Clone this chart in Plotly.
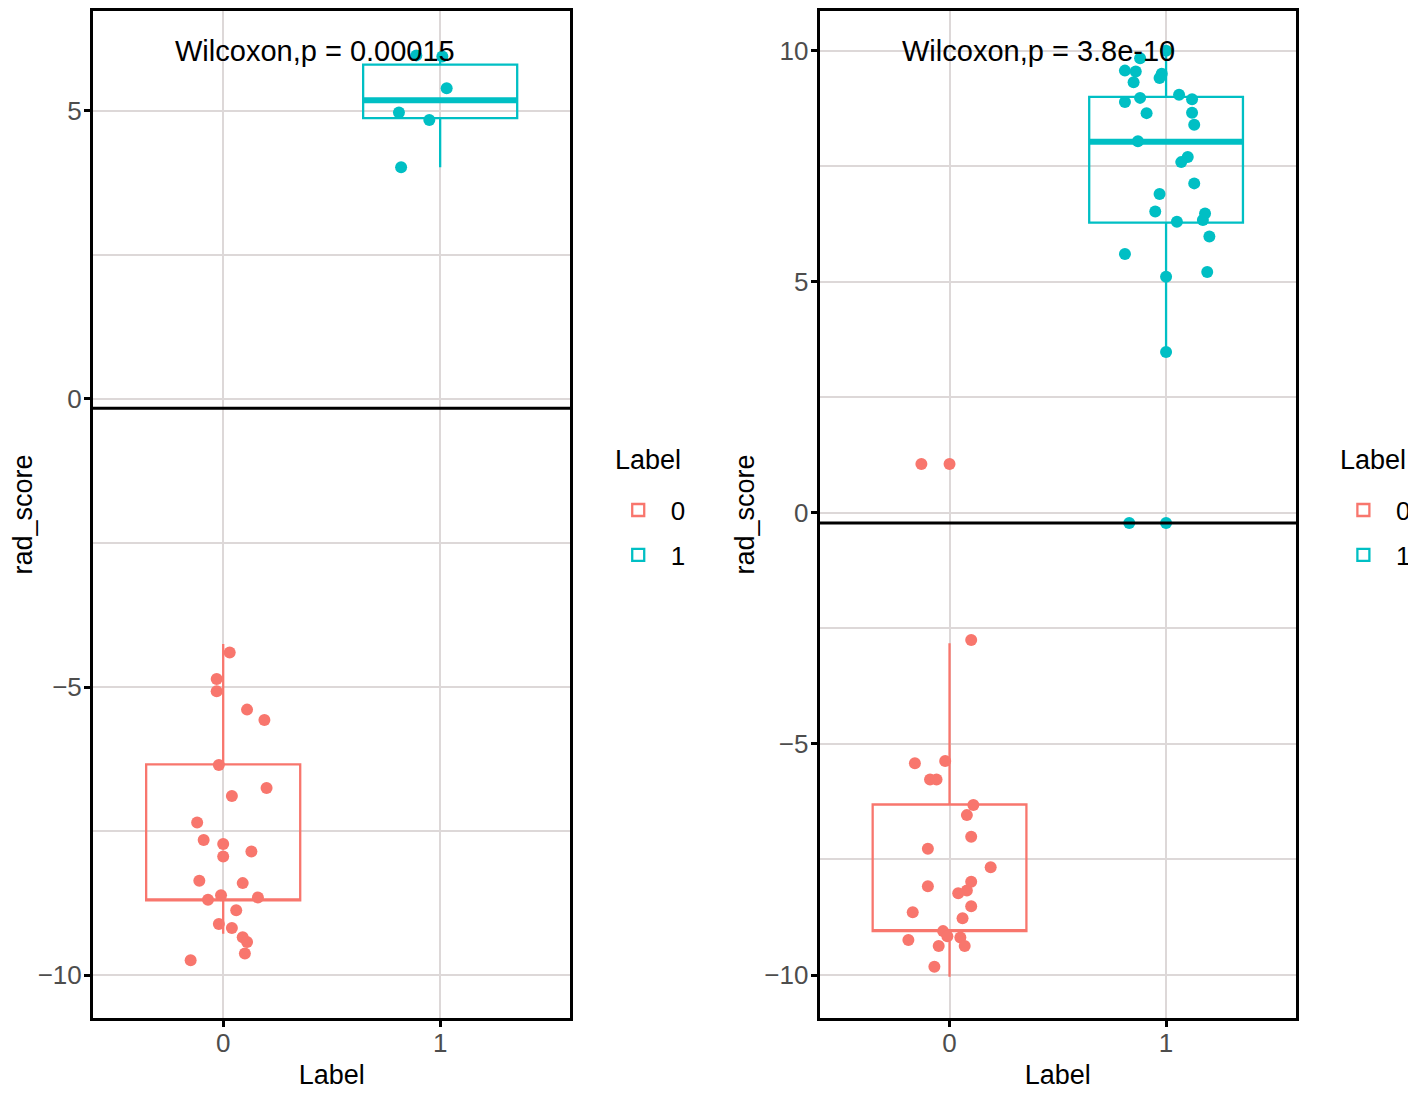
import plotly.graph_objects as go

# ---------------- data ----------------
categories = [0, 1]
colors = ["#F8766D", "#00BFC4"]

# Left panel, Label 0 (jittered points: horizontal offset, value)
L0_dx = [0.03, -0.03, -0.03, 0.11, 0.19, -0.02, 0.20, 0.04, -0.12, -0.09, 0.00, 0.00, 0.13,
         -0.11, 0.09, -0.01, -0.07, 0.16, 0.06, -0.02, 0.04, 0.09, 0.11, 0.10, -0.15]
L0_y = [-4.40, -4.86, -5.07, -5.39, -5.57, -6.35, -6.75, -6.89, -7.35, -7.65, -7.72, -7.94, -7.85,
        -8.36, -8.40, -8.61, -8.69, -8.65, -8.87, -9.11, -9.18, -9.34, -9.42, -9.62, -9.74]
# Left panel, Label 1
L1_dx = [-0.11, 0.01, 0.03, -0.19, -0.05, -0.18]
L1_y = [5.96, 5.94, 5.39, 4.97, 4.84, 4.02]

# Right panel, Label 0
R0_dx = [0.10, -0.16, -0.02, -0.09, -0.06, 0.11, 0.08, 0.10, -0.10, 0.19, 0.10, 0.08, -0.10,
         0.04, 0.10, -0.17, 0.06, -0.03, -0.01, 0.05, -0.19, -0.05, 0.07, -0.07, -0.13, 0.00]
R0_y = [-2.75, -5.42, -5.37, -5.77, -5.77, -6.32, -6.54, -7.01, -7.27, -7.67, -7.98, -8.17, -8.08,
        -8.23, -8.51, -8.64, -8.77, -9.05, -9.16, -9.19, -9.24, -9.37, -9.37, -9.82, 1.06, 1.06]
# Right panel, Label 1
R1_dx = [0.00, -0.12, -0.19, -0.14, -0.02, -0.03, -0.15, 0.06, -0.12, 0.12, -0.19, -0.09, 0.12,
         0.13, -0.13, 0.10, 0.07, 0.13, -0.03, -0.05, 0.18, 0.17, 0.05, 0.20, -0.19, 0.19, 0.00,
         0.00, -0.17, 0.00]
R1_y = [10.00, 9.84, 9.57, 9.55, 9.50, 9.41, 9.32, 9.05, 8.98, 8.95, 8.89, 8.65, 8.66,
        8.40, 8.04, 7.70, 7.59, 7.13, 6.90, 6.52, 6.48, 6.34, 6.30, 5.98, 5.60, 5.21, 5.11,
        3.48, -0.22, -0.22]

# Box statistics per panel, in category order [0, 1]
L_lower = [-9.28, 4.02]
L_q1 = [-8.70, 4.87]
L_med = [-8.70, 5.18]
L_q3 = [-6.34, 5.80]
L_upper = [-4.25, 5.96]

R_lower = [-10.04, 3.48]
R_q1 = [-9.05, 6.28]
R_med = [-9.05, 8.03]
R_q3 = [-6.31, 9.00]
R_upper = [-2.82, 10.00]

p_texts = ["Wilcoxon,p = 0.00015", "Wilcoxon,p = 3.8e-10"]
y_ticks_left = [-10, -5, 0, 5]
y_minor_left = [-7.5, -2.5, 2.5]
y_ticks_right = [-10, -5, 0, 5, 10]
y_minor_right = [-7.5, -2.5, 2.5, 7.5]

# ---------------- styling ----------------
FONT = "Liberation Sans, Arial, sans-serif"
GRID = "#DDD8D8"
BOX_W = 0.71

fig = go.Figure()


def add_panel(xa, ya, legend, dxs, ys, lows, q1s, meds, q3s, ups):
    # boxes
    for i, c in enumerate(categories):
        fig.add_trace(go.Box(
            x=[c], q1=[q1s[i]], median=[meds[i]], q3=[q3s[i]],
            lowerfence=[lows[i]], upperfence=[ups[i]],
            width=BOX_W, whiskerwidth=0, boxpoints=False,
            line=dict(color=colors[i], width=2.3),
            fillcolor="rgba(0,0,0,0)",
            name=str(c), legend=legend, legendgroup=legend + str(c),
            xaxis=xa, yaxis=ya, showlegend=True, hoverinfo="skip",
        ))
    # thick median for group 1
    fig.add_trace(go.Scatter(
        x=[categories[1] - BOX_W / 2, categories[1] + BOX_W / 2], y=[meds[1], meds[1]],
        mode="lines", line=dict(color=colors[1], width=6),
        xaxis=xa, yaxis=ya, showlegend=False, hoverinfo="skip",
    ))
    # jittered points
    for i, c in enumerate(categories):
        fig.add_trace(go.Scatter(
            x=[c + d for d in dxs[i]], y=ys[i], mode="markers",
            marker=dict(color=colors[i], size=12, line=dict(width=0)),
            xaxis=xa, yaxis=ya, showlegend=False, hoverinfo="skip",
        ))


add_panel("x", "y", "legend", [L0_dx, L1_dx], [L0_y, L1_y], L_lower, L_q1, L_med, L_q3, L_upper)
add_panel("x2", "y2", "legend2", [R0_dx, R1_dx], [R0_y, R1_y], R_lower, R_q1, R_med, R_q3, R_upper)

common_axis = dict(
    showline=True, mirror=True, linecolor="black", linewidth=3,
    ticks="outside", ticklen=6, tickwidth=2.5, tickcolor="black",
    tickfont=dict(family=FONT, size=26, color="#4D4D4D"),
    showgrid=True, gridcolor=GRID, gridwidth=2, zeroline=False,
)

xaxis_common = dict(common_axis, range=[-0.6, 1.6], tickvals=categories,
                    ticktext=[str(c) for c in categories], ticklabelstandoff=-6,
                    title=dict(text="Label", font=dict(family=FONT, size=27, color="black"), standoff=8))

yaxis_title = dict(text="rad_score", font=dict(family=FONT, size=27, color="black"), standoff=2)

legend_common = dict(xanchor="left", yanchor="top", y=0.5277,
                     font=dict(family=FONT, size=26), itemwidth=55, tracegroupgap=8,
                     bgcolor="rgba(0,0,0,0)")

fig.update_layout(
    width=1408, height=1088,
    margin=dict(l=85, r=115, t=0, b=78),
    paper_bgcolor="white", plot_bgcolor="white",
    font=dict(family=FONT, color="black"),
    xaxis=dict(xaxis_common, domain=[0, 0.3968], anchor="y"),
    xaxis2=dict(xaxis_common, domain=[0.6040, 1], anchor="y2"),
    yaxis=dict(common_axis, domain=[0, 1], anchor="x", range=[-10.74, 6.73],
               tickvals=y_ticks_left, ticklabelstandoff=-3,
               minor=dict(tickvals=y_minor_left, showgrid=True, gridcolor=GRID, gridwidth=1.6, ticks=""),
               title=yaxis_title),
    yaxis2=dict(common_axis, domain=[0, 1], anchor="x2", range=[-10.93, 10.86],
                tickvals=y_ticks_right, ticklabelstandoff=-3,
                minor=dict(tickvals=y_minor_right, showgrid=True, gridcolor=GRID, gridwidth=1.6, ticks=""),
                title=yaxis_title),
    legend=dict(legend_common, x=0.4262),
    legend2=dict(legend_common, x=1.029),
    showlegend=True,
)

# legend titles
for lx in (0.432, 1.0348):
    fig.add_annotation(x=lx, y=0.5545, xref="paper", yref="paper", text="Label", showarrow=False,
                       font=dict(family=FONT, size=27, color="black"), xanchor="left", yanchor="middle")

# p-value labels
fig.add_annotation(x=0.424, y=6.03, xref="x", yref="y", text=p_texts[0], showarrow=False,
                   font=dict(family=FONT, size=29, color="black"), xanchor="center", yanchor="middle")
fig.add_annotation(x=0.41, y=10.0, xref="x2", yref="y2", text=p_texts[1], showarrow=False,
                   font=dict(family=FONT, size=29, color="black"), xanchor="center", yanchor="middle")

# horizontal black reference lines
fig.add_shape(type="line", xref="x domain", yref="y", x0=0, x1=1, y0=-0.16, y1=-0.16,
              line=dict(color="black", width=3))
fig.add_shape(type="line", xref="x2 domain", yref="y2", x0=0, x1=1, y0=-0.22, y1=-0.22,
              line=dict(color="black", width=3))

fig.write_html("out.html")
